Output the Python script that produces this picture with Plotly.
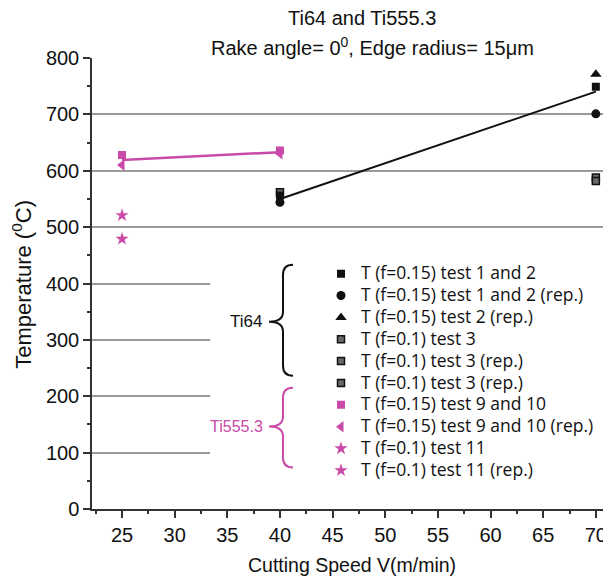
import numpy as np
import plotly.graph_objects as go

# ---------------- data ----------------
x_t12 = [40, 70]
y_t12 = [556, 749]
x_t12rep = [40, 70]
y_t12rep = [544, 701]
x_t2rep = [70]
y_t2rep = [771]
x_t3 = [70]
y_t3 = [588]
x_t3rep = [70]
y_t3rep = [582]
x_t3rep2 = [40]
y_t3rep2 = [562]

x_t910 = [25, 40]
y_t910 = [628, 636]
x_t910rep = [25, 40]
y_t910rep = [610, 630]
x_t11 = [25]
y_t11 = [521]
x_t11rep = [25]
y_t11rep = [479]

x_ticks = [25, 30, 35, 40, 45, 50, 55, 60, 65, 70]
y_ticks = [0, 100, 200, 300, 400, 500, 600, 700, 800]

BLACK = "#111111"
PINK = "#c94aa8"
FONT = "Liberation Sans, Arial, sans-serif"

# page has an 8px body margin; figure is sized so that it fills the window
OFF = 8
W, H = 603, 571
ML, MR, MT, MB = 84, 0, 50, 69.5
PW, PH = W - ML - MR, H - MT - MB


def px(x):
    return (x - OFF - ML) / PW


def py(y):
    return (H - MB - (y - OFF)) / PH


fig = go.Figure()

# regression lines (fit of f=0.15 data)
bx = np.array(x_t12 + x_t12rep + x_t2rep, dtype=float)
by = np.array(y_t12 + y_t12rep + y_t2rep, dtype=float)
bk = np.polyfit(bx, by, 1)
bxl = np.array([bx.min(), bx.max()])
fig.add_trace(go.Scatter(x=bxl, y=np.polyval(bk, bxl), mode="lines",
                         line=dict(color=BLACK, width=2), showlegend=False,
                         hoverinfo="skip"))
pxs = np.array(x_t910 + x_t910rep, dtype=float)
pys = np.array(y_t910 + y_t910rep, dtype=float)
pk = np.polyfit(pxs, pys, 1)
pxl = np.array([pxs.min(), pxs.max()])
fig.add_trace(go.Scatter(x=pxl, y=np.polyval(pk, pxl), mode="lines",
                         line=dict(color=PINK, width=2.5), showlegend=False,
                         hoverinfo="skip"))

GRAYSQ = "#6a6a6a"
series = [
    ("T (f=0.1) test 3", x_t3, y_t3, "square", 7, GRAYSQ, 1.5, BLACK, 3),
    ("T (f=0.1) test 3 (rep.)", x_t3rep, y_t3rep, "square", 7, GRAYSQ, 1.5, BLACK, 4),
    ("T (f=0.1) test 3 (rep.)", x_t3rep2, y_t3rep2, "square", 7, GRAYSQ, 1.5, BLACK, 5),
    ("T (f=0.15) test 1 and 2", x_t12, y_t12, "square", 8, BLACK, 0, BLACK, 0),
    ("T (f=0.15) test 1 and 2 (rep.)", x_t12rep, y_t12rep, "circle", 9, BLACK, 0, BLACK, 1),
    ("T (f=0.15) test 2 (rep.)", x_t2rep, y_t2rep, "triangle-up", 10, BLACK, 0, BLACK, 2),
    ("T (f=0.15) test 9 and 10", x_t910, y_t910, "square", 8, PINK, 0, PINK, 6),
    ("T (f=0.15) test 9 and 10 (rep.)", x_t910rep, y_t910rep, "triangle-left", 10, PINK, 0, PINK, 7),
    ("T (f=0.1) test 11", x_t11, y_t11, "star", 10, PINK, 0, PINK, 8),
    ("T (f=0.1) test 11 (rep.)", x_t11rep, y_t11rep, "star", 10, PINK, 0, PINK, 9),
]
for name, xs, ys, sym, size, col, lw, lc, rank in series:
    fig.add_trace(go.Scatter(
        x=xs, y=ys, mode="markers", legendgroup=f"g{rank}", legendrank=rank + 1,
        name=f'<span style="font-size:17.5px">{name}</span>',
        cliponaxis=False,
        marker=dict(symbol=sym, size=size, color=col,
                    line=dict(width=lw, color=lc)),
    ))


def brace(x_end, x_body, x_tip, y_top, y_mid, y_bot, r=10):
    X = lambda v: f"{px(v):.5f}"
    Y = lambda v: f"{py(v):.5f}"
    return (f"M {X(x_end)},{Y(y_top)} Q {X(x_body)},{Y(y_top)} {X(x_body)},{Y(y_top + r)} "
            f"L {X(x_body)},{Y(y_mid - r)} Q {X(x_body)},{Y(y_mid)} {X(x_tip)},{Y(y_mid)} "
            f"Q {X(x_body)},{Y(y_mid)} {X(x_body)},{Y(y_mid + r)} "
            f"L {X(x_body)},{Y(y_bot - r)} Q {X(x_body)},{Y(y_bot)} {X(x_end)},{Y(y_bot)}")


shapes = [
    dict(type="rect", xref="paper", yref="paper", x0=px(210), x1=px(605),
         y0=py(490), y1=py(258), fillcolor="white", line=dict(width=0),
         layer="above"),
    dict(type="path", xref="paper", yref="paper",
         path=brace(293, 283, 269, 265, 322, 376), line=dict(color=BLACK, width=2)),
    dict(type="path", xref="paper", yref="paper",
         path=brace(293, 283, 269, 388, 427, 468), line=dict(color=PINK, width=2)),
]


def ann(text, x, y, size, color=BLACK, xanchor="center", angle=0):
    return dict(text=text, x=px(x), y=py(y), xref="paper", yref="paper",
                xanchor=xanchor, yanchor="middle", showarrow=False, textangle=angle,
                font=dict(family=FONT, size=size, color=color))


annotations = [
    ann("Ti64 and Ti555.3", 362, 18, 20),
    ann("Rake angle= 0<sup>0</sup>, Edge radius= 15μm", 372, 46, 20),
    ann("Ti64", 264, 322, 17, xanchor="right"),
    ann("Ti555.3", 265, 427, 16, color=PINK, xanchor="right"),
    ann("Cutting Speed V(m/min)", 352, 566, 19.5),
    ann("Temperature (<sup>0</sup>C)", 22, 285, 22, angle=-90),
]

fig.update_layout(
    width=W, height=H,
    margin=dict(l=ML, r=MR, t=MT, b=MB),
    paper_bgcolor="white", plot_bgcolor="white",
    font=dict(family=FONT, color=BLACK),
    showlegend=True,
    legend=dict(x=px(321), y=py(258), xanchor="left", yanchor="top",
                bgcolor="rgba(0,0,0,0)", font=dict(family="Open Sans", size=14.5, color="#111"),
                tracegroupgap=0, traceorder="normal"),
    shapes=shapes,
    annotations=annotations,
    xaxis=dict(range=[22.15, 71.44], tickvals=x_ticks, ticks="outside", ticklen=7,
               tickwidth=1.5, tickcolor="#333", showline=True, linecolor="#333",
               linewidth=1.5, showgrid=False, zeroline=False,
               tickfont=dict(family=FONT, size=20, color=BLACK),
               minor=dict(dtick=2.5, tick0=22.5, ticks="outside", ticklen=3, tickcolor="#333",
                          showgrid=False)),
    yaxis=dict(range=[0, 800], tickvals=y_ticks, ticks="outside", ticklen=7,
               tickwidth=1.5, tickcolor="#333", showline=True, linecolor="#333",
               linewidth=1.5, showgrid=True, gridcolor="#9a9a9a", gridwidth=1.5,
               zeroline=False,
               tickfont=dict(family=FONT, size=20, color=BLACK),
               minor=dict(dtick=50, ticks="outside", ticklen=3, tickcolor="#333",
                          showgrid=False)),
)

fig.write_html("out.html")
